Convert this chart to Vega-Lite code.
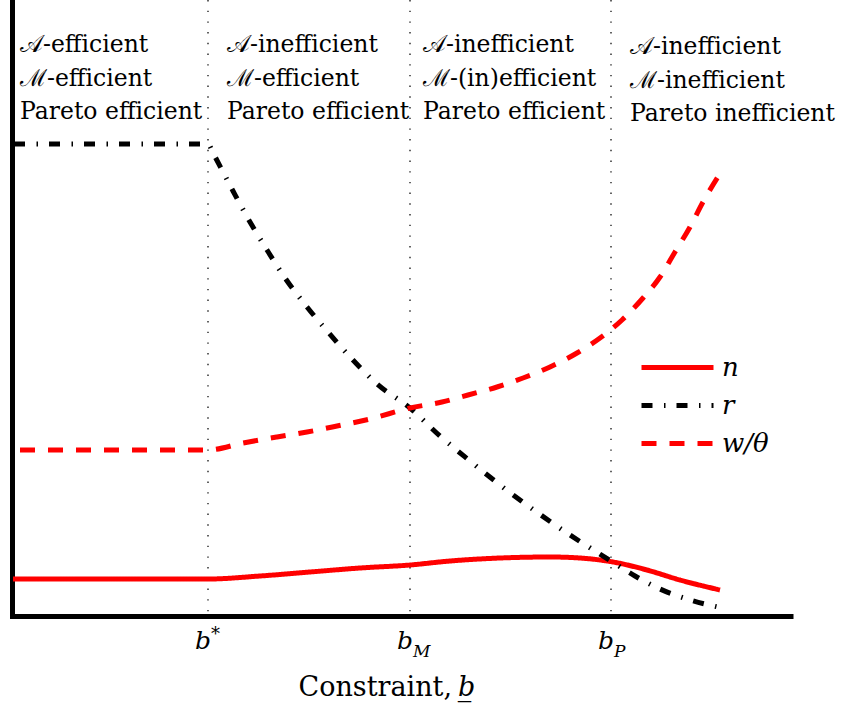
{
  "$schema": "https://vega.github.io/schema/vega-lite/v6.json",
  "width": 781,
  "height": 616,
  "autosize": {"type": "none"},
  "padding": {"left": 12, "top": 0, "right": 50, "bottom": 90},
  "background": "white",
  "config": {
    "view": {"stroke": null},
    "axis": {"domain": true, "domainWidth": 5, "domainColor": "black", "ticks": false, "labels": false, "grid": false},
    "axisY": {"domainCap": "square"},
    "text": {"font": "DejaVu Serif", "color": "black"}
  },
  "datasets": {
    "curves": [
      {"series": "n", "x": 13, "y": 37},
      {"series": "n", "x": 208, "y": 37},
      {"series": "n", "x": 260, "y": 40},
      {"series": "n", "x": 310, "y": 44},
      {"series": "n", "x": 360, "y": 48},
      {"series": "n", "x": 410, "y": 51},
      {"series": "n", "x": 450, "y": 55},
      {"series": "n", "x": 500, "y": 58},
      {"series": "n", "x": 550, "y": 59},
      {"series": "n", "x": 580, "y": 58},
      {"series": "n", "x": 613, "y": 54},
      {"series": "n", "x": 647, "y": 46},
      {"series": "n", "x": 680, "y": 36},
      {"series": "n", "x": 720, "y": 26},
      {"series": "r", "x": 14, "y": 472},
      {"series": "r", "x": 208, "y": 472},
      {"series": "r", "x": 213, "y": 463},
      {"series": "r", "x": 233, "y": 425},
      {"series": "r", "x": 250, "y": 394},
      {"series": "r", "x": 267, "y": 366},
      {"series": "r", "x": 285, "y": 338},
      {"series": "r", "x": 307, "y": 309},
      {"series": "r", "x": 328, "y": 284},
      {"series": "r", "x": 352, "y": 257},
      {"series": "r", "x": 377, "y": 232},
      {"series": "r", "x": 410, "y": 208},
      {"series": "r", "x": 440, "y": 180},
      {"series": "r", "x": 470, "y": 155},
      {"series": "r", "x": 500, "y": 131},
      {"series": "r", "x": 538, "y": 103},
      {"series": "r", "x": 570, "y": 81},
      {"series": "r", "x": 611, "y": 55},
      {"series": "r", "x": 635, "y": 40},
      {"series": "r", "x": 660, "y": 27},
      {"series": "r", "x": 690, "y": 16},
      {"series": "r", "x": 718, "y": 9},
      {"series": "w/θ", "x": 20, "y": 166},
      {"series": "w/θ", "x": 208, "y": 166},
      {"series": "w/θ", "x": 243, "y": 173},
      {"series": "w/θ", "x": 277, "y": 179},
      {"series": "w/θ", "x": 307, "y": 184},
      {"series": "w/θ", "x": 337, "y": 190},
      {"series": "w/θ", "x": 370, "y": 197},
      {"series": "w/θ", "x": 410, "y": 208},
      {"series": "w/θ", "x": 442, "y": 214},
      {"series": "w/θ", "x": 468, "y": 221},
      {"series": "w/θ", "x": 497, "y": 229},
      {"series": "w/θ", "x": 523, "y": 238},
      {"series": "w/θ", "x": 550, "y": 249},
      {"series": "w/θ", "x": 577, "y": 263},
      {"series": "w/θ", "x": 600, "y": 278},
      {"series": "w/θ", "x": 622, "y": 296},
      {"series": "w/θ", "x": 643, "y": 318},
      {"series": "w/θ", "x": 660, "y": 339},
      {"series": "w/θ", "x": 675, "y": 364},
      {"series": "w/θ", "x": 690, "y": 389},
      {"series": "w/θ", "x": 703, "y": 414},
      {"series": "w/θ", "x": 721, "y": 444}
    ],
    "ticks": [
      {"x": 208, "main": "b", "mark": "*", "kind": "sup"},
      {"x": 410, "main": "b", "mark": "M", "kind": "sub"},
      {"x": 611, "main": "b", "mark": "P", "kind": "sub"}
    ],
    "regions": [
      {"x": 20, "y": 564, "label": "𝒜-efficient\nℳ-efficient\nPareto efficient"},
      {"x": 227, "y": 564, "label": "𝒜-inefficient\nℳ-efficient\nPareto efficient"},
      {"x": 423, "y": 564, "label": "𝒜-inefficient\nℳ-(in)efficient\nPareto efficient"},
      {"x": 630, "y": 562, "label": "𝒜-inefficient\nℳ-inefficient\nPareto inefficient"}
    ]
  },
  "layer": [
    {
      "data": {"name": "ticks"},
      "mark": {"type": "rule", "color": "#222222", "strokeWidth": 1.4, "strokeDash": [1.4, 9.3]},
      "encoding": {
        "x": {"field": "x", "type": "quantitative", "scale": {"domain": [12, 793], "nice": false, "zero": false}, "axis": {"title": null}}
      }
    },
    {
      "data": {"name": "curves"},
      "mark": {"type": "line", "interpolate": "monotone", "strokeWidth": 5, "strokeCap": "butt"},
      "encoding": {
        "x": {"field": "x", "type": "quantitative", "scale": {"domain": [12, 793], "nice": false, "zero": false}, "axis": {"title": null}},
        "y": {"field": "y", "type": "quantitative", "scale": {"domain": [0, 616], "nice": false, "zero": false}, "axis": {"title": null}},
        "color": {"field": "series", "type": "nominal",
                  "scale": {"domain": ["n", "r", "w/θ"], "range": ["#ff0000", "#000000", "#ff0000"]},
                  "legend": {"title": null, "orient": "none", "legendX": 627, "legendY": 353, "symbolType": "M-1,0H5", "symbolSize": 576, "symbolStrokeWidth": 5, "symbolFillColor": "transparent", "labelFont": "DejaVu Serif", "labelFontStyle": "italic", "labelFontSize": 26, "labelColor": "black", "rowPadding": 10, "padding": 0, "labelOffset": 54}},
        "strokeDash": {"field": "series", "type": "nominal",
                       "scale": {"domain": ["n", "r", "w/θ"], "range": [[1, 0], [11, 11.5, 1.5, 11], [15, 13]]},
                       "legend": {"title": null, "orient": "none", "legendX": 627, "legendY": 353, "symbolType": "M-1,0H5", "symbolSize": 576, "symbolStrokeWidth": 5, "symbolFillColor": "transparent", "labelFont": "DejaVu Serif", "labelFontStyle": "italic", "labelFontSize": 26, "labelColor": "black", "rowPadding": 10, "padding": 0, "labelOffset": 54}}
      }
    },
    {
      "data": {"name": "regions"},
      "mark": {"type": "text", "font": "DejaVu Serif", "align": "left", "baseline": "alphabetic", "fontSize": 23.5, "lineBreak": "\n", "lineHeight": 33.5},
      "encoding": {
        "x": {"field": "x", "type": "quantitative", "scale": {"domain": [12, 793], "nice": false, "zero": false}, "axis": {"title": null}},
        "y": {"field": "y", "type": "quantitative", "scale": {"domain": [0, 616], "nice": false, "zero": false}, "axis": {"title": null}},
        "text": {"field": "label"}
      }
    },
    {
      "data": {"name": "ticks"},
      "mark": {"type": "text", "font": "DejaVu Serif", "align": "right", "baseline": "alphabetic", "fontSize": 25, "fontStyle": "italic", "dx": 3},
      "encoding": {
        "x": {"field": "x", "type": "quantitative", "scale": {"domain": [12, 793], "nice": false, "zero": false}, "axis": {"title": null}},
        "y": {"datum": -33, "type": "quantitative", "scale": {"domain": [0, 616], "nice": false, "zero": false}, "axis": {"title": null}},
        "text": {"field": "main"}
      }
    },
    {
      "data": {"name": "ticks"},
      "transform": [{"filter": "datum.kind === 'sub'"}],
      "mark": {"type": "text", "font": "DejaVu Serif", "align": "left", "baseline": "alphabetic", "fontSize": 17, "fontStyle": "italic", "dx": 3},
      "encoding": {
        "x": {"field": "x", "type": "quantitative", "scale": {"domain": [12, 793], "nice": false, "zero": false}, "axis": {"title": null}},
        "y": {"datum": -41, "type": "quantitative", "scale": {"domain": [0, 616], "nice": false, "zero": false}, "axis": {"title": null}},
        "text": {"field": "mark"}
      }
    },
    {
      "data": {"name": "ticks"},
      "transform": [{"filter": "datum.kind === 'sup'"}],
      "mark": {"type": "text", "font": "DejaVu Serif", "align": "left", "baseline": "alphabetic", "fontSize": 18, "dx": 3},
      "encoding": {
        "x": {"field": "x", "type": "quantitative", "scale": {"domain": [12, 793], "nice": false, "zero": false}, "axis": {"title": null}},
        "y": {"datum": -24, "type": "quantitative", "scale": {"domain": [0, 616], "nice": false, "zero": false}, "axis": {"title": null}},
        "text": {"field": "mark"}
      }
    },
    {
      "data": {"values": [{"x": 452, "label": "Constraint,"}]},
      "mark": {"type": "text", "font": "DejaVu Serif", "align": "right", "baseline": "alphabetic", "fontSize": 27},
      "encoding": {
        "x": {"field": "x", "type": "quantitative", "scale": {"domain": [12, 793], "nice": false, "zero": false}, "axis": {"title": null}},
        "y": {"datum": -80, "type": "quantitative", "scale": {"domain": [0, 616], "nice": false, "zero": false}, "axis": {"title": null}},
        "text": {"field": "label"}
      }
    },
    {
      "data": {"values": [{"x": 458, "label": "b̲"}]},
      "mark": {"type": "text", "font": "DejaVu Serif", "align": "left", "baseline": "alphabetic", "fontSize": 27, "fontStyle": "italic"},
      "encoding": {
        "x": {"field": "x", "type": "quantitative", "scale": {"domain": [12, 793], "nice": false, "zero": false}, "axis": {"title": null}},
        "y": {"datum": -80, "type": "quantitative", "scale": {"domain": [0, 616], "nice": false, "zero": false}, "axis": {"title": null}},
        "text": {"field": "label"}
      }
    }
  ]
}
